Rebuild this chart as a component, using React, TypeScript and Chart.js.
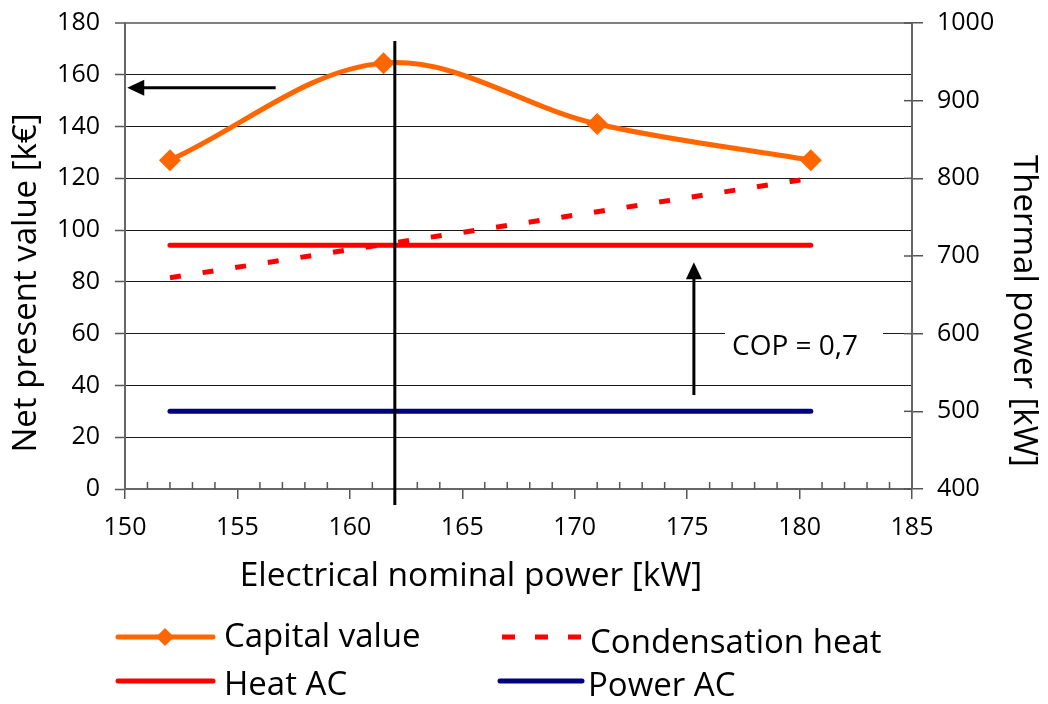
import React, { useEffect, useRef } from "react";
import { Chart, registerables } from "chart.js";

Chart.register(...registerables);

// ---- data ----
const electricalPower = [152, 161.5, 171, 180.5]; // kW (x)
const capitalValue = [127, 164.5, 141, 127]; // k€ (left axis)
const condensationHeat = [672, 715, 757, 800]; // kW (right axis)
const heatAC = [714, 714, 714, 714]; // kW (right axis)
const powerAC = [500, 500, 500, 500]; // kW (right axis)

const xRange = [150, 185];
const leftRange = [0, 180];
const rightRange = [400, 1000];

const optimumPower = 162; // vertical marker
const leftArrow = { y: 155, fromX: 156.7, toX: 150.1 };
const copArrow = { x: 175.3, fromY: 521, toY: 692 };
const copLabel = "COP = 0,7";

const xTitle = "Electrical nominal power [kW]";
const leftTitle = "Net present value [k€]";
const rightTitle = "Thermal power [kW]";

const FONT = "'Open Sans', sans-serif";
const ORANGE = "#FF6600";
const RED = "#FF0000";
const NAVY = "#000080";

function arrowHead(ctx: CanvasRenderingContext2D, tx: number, ty: number, dx: number, dy: number) {
  const len = 17;
  const half = 8;
  const bx = tx - dx * len;
  const by = ty - dy * len;
  ctx.beginPath();
  ctx.moveTo(tx, ty);
  ctx.lineTo(bx - dy * half, by + dx * half);
  ctx.lineTo(bx + dy * half, by - dx * half);
  ctx.closePath();
  ctx.fill();
}

export default function App() {
  const ref = useRef<HTMLCanvasElement>(null);

  useEffect(() => {
    const canvas = ref.current!;

    const overlay = {
      id: "overlay",
      afterDraw(chart: any) {
        const { ctx, chartArea: ca, scales } = chart;
        const sx = scales.x;
        const sy = scales.y;
        const sy1 = scales.y1;
        ctx.save();

        // minor ticks on the x axis (inside)
        ctx.strokeStyle = "#555";
        ctx.lineWidth = 1.5;
        for (let v = xRange[0]; v <= xRange[1]; v++) {
          if (v % 5 === 0) continue;
          const px = sx.getPixelForValue(v);
          ctx.beginPath();
          ctx.moveTo(px, ca.bottom);
          ctx.lineTo(px, ca.bottom - 7);
          ctx.stroke();
        }
        // inward part of right axis ticks
        for (let v = rightRange[0]; v <= rightRange[1]; v += 100) {
          const py = sy1.getPixelForValue(v);
          ctx.beginPath();
          ctx.moveTo(ca.right, py);
          ctx.lineTo(ca.right - 8, py);
          ctx.stroke();
        }

        // vertical optimum line
        const vx = sx.getPixelForValue(optimumPower);
        ctx.strokeStyle = "#000";
        ctx.lineWidth = 3;
        ctx.beginPath();
        ctx.moveTo(vx, 41);
        ctx.lineTo(vx, ca.bottom + 16);
        ctx.stroke();

        // left arrow
        ctx.fillStyle = "#000";
        ctx.lineWidth = 3;
        const ay = sy.getPixelForValue(leftArrow.y);
        const ax0 = sx.getPixelForValue(leftArrow.fromX);
        const ax1 = sx.getPixelForValue(leftArrow.toX);
        ctx.beginPath();
        ctx.moveTo(ax0, ay);
        ctx.lineTo(ax1 + 10, ay);
        ctx.stroke();
        arrowHead(ctx, ax1, ay, -1, 0);

        // COP arrow
        const cx = sx.getPixelForValue(copArrow.x);
        const cy0 = sy1.getPixelForValue(copArrow.fromY);
        const cy1 = sy1.getPixelForValue(copArrow.toY);
        ctx.beginPath();
        ctx.moveTo(cx, cy0);
        ctx.lineTo(cx, cy1 + 10);
        ctx.stroke();
        arrowHead(ctx, cx, cy1, 0, -1);

        // COP label with white box
        ctx.font = `28px ${FONT}`;
        ctx.textBaseline = "alphabetic";
        ctx.textAlign = "left";
        ctx.fillStyle = "#fff";
        ctx.fillRect(725, 318, 158, 48);
        ctx.fillStyle = "#000";
        ctx.fillText(copLabel, 732, 355);

        // axis titles
        ctx.font = `33.5px ${FONT}`;
        ctx.textAlign = "center";
        ctx.fillText(xTitle, 471, 586);
        ctx.font = `33px ${FONT}`;
        ctx.save();
        ctx.translate(36, 283);
        ctx.rotate(-Math.PI / 2);
        ctx.fillText(leftTitle, 0, 0);
        ctx.restore();
        ctx.save();
        ctx.translate(1014, 311);
        ctx.rotate(Math.PI / 2);
        ctx.fillText(rightTitle, 0, 0);
        ctx.restore();

        // legend
        const ds = chart.data.datasets;
        ctx.textAlign = "left";
        ctx.font = `33px ${FONT}`;
        ctx.lineCap = "round";
        // Capital value
        ctx.strokeStyle = ORANGE;
        ctx.lineWidth = 5;
        ctx.beginPath();
        ctx.moveTo(118, 637);
        ctx.lineTo(213, 637);
        ctx.stroke();
        ctx.fillStyle = ORANGE;
        ctx.beginPath();
        ctx.moveTo(165, 628);
        ctx.lineTo(174, 637);
        ctx.lineTo(165, 646);
        ctx.lineTo(156, 637);
        ctx.closePath();
        ctx.fill();
        ctx.fillStyle = "#000";
        ctx.fillText(ds[0].label, 224, 647);
        // Heat AC
        ctx.strokeStyle = RED;
        ctx.beginPath();
        ctx.moveTo(118, 681);
        ctx.lineTo(213, 681);
        ctx.stroke();
        ctx.fillText(ds[2].label, 224, 695);
        // Condensation heat (dashed)
        ctx.lineCap = "butt";
        ctx.strokeStyle = RED;
        ctx.setLineDash([13, 20]);
        ctx.beginPath();
        ctx.moveTo(502, 637);
        ctx.lineTo(582, 637);
        ctx.stroke();
        ctx.setLineDash([]);
        ctx.fillText(ds[1].label, 590, 653);
        // Power AC
        ctx.lineCap = "round";
        ctx.strokeStyle = NAVY;
        ctx.beginPath();
        ctx.moveTo(500, 681);
        ctx.lineTo(582, 681);
        ctx.stroke();
        ctx.fillText(ds[3].label, 588, 696);

        ctx.restore();
      },
    };

    const chart = new Chart(canvas, {
      type: "line",
      data: {
        datasets: [
          {
            label: "Capital value",
            data: electricalPower.map((x, i) => ({ x, y: capitalValue[i] })),
            yAxisID: "y",
            borderColor: ORANGE,
            backgroundColor: ORANGE,
            borderWidth: 5,
            tension: 0.35,
            pointStyle: "rectRot",
            pointRadius: 11,
            pointBorderWidth: 0,
            borderCapStyle: "round",
          },
          {
            label: "Condensation heat",
            data: electricalPower.map((x, i) => ({ x, y: condensationHeat[i] })),
            yAxisID: "y1",
            borderColor: RED,
            borderWidth: 5,
            borderDash: [11, 22],
            pointRadius: 0,
          },
          {
            label: "Heat AC",
            data: electricalPower.map((x, i) => ({ x, y: heatAC[i] })),
            yAxisID: "y1",
            borderColor: RED,
            borderWidth: 5,
            borderCapStyle: "round",
            pointRadius: 0,
          },
          {
            label: "Power AC",
            data: electricalPower.map((x, i) => ({ x, y: powerAC[i] })),
            yAxisID: "y1",
            borderColor: NAVY,
            borderWidth: 5,
            borderCapStyle: "round",
            pointRadius: 0,
          },
        ],
      },
      options: {
        animation: false,
        responsive: false,
        maintainAspectRatio: false,
        events: [],
        layout: { padding: { top: 23, left: 0, right: 0, bottom: 0 } },
        plugins: { legend: { display: false }, tooltip: { enabled: false } },
        scales: {
          x: {
            type: "linear",
            min: xRange[0],
            max: xRange[1],
            afterFit: (s: any) => {
              s.height = 215;
              s.paddingLeft = 0;
              s.paddingRight = 0;
            },
            ticks: {
              stepSize: 5,
              color: "#000",
              font: { family: FONT, size: 25 },
              padding: 14,
              maxRotation: 0,
              callback: (v: any) => String(v),
            },
            grid: { drawOnChartArea: false, tickLength: 10, color: "#555", lineWidth: 1.5 },
            border: { display: true, color: "#666", width: 2 },
          },
          y: {
            type: "linear",
            position: "left",
            min: leftRange[0],
            max: leftRange[1],
            afterFit: (s: any) => {
              s.width = 125;
              s.paddingTop = 0;
              s.paddingBottom = 0;
            },
            ticks: { stepSize: 20, color: "#000", font: { family: FONT, size: 25 }, padding: 15, callback: (v: any) => String(v) },
            grid: {
              tickLength: 10,
              color: (c: any) => (c.tick && c.tick.value === leftRange[1] ? "#808080" : "#1a1a1a"),
              lineWidth: (c: any) => (c.tick && c.tick.value === leftRange[1] ? 2 : 1),
              tickColor: "#555",
              tickWidth: 1.5,
            },
            border: { display: true, color: "#666", width: 2 },
          },
          y1: {
            type: "linear",
            position: "right",
            min: rightRange[0],
            max: rightRange[1],
            afterFit: (s: any) => {
              s.width = 136;
              s.paddingTop = 0;
              s.paddingBottom = 0;
            },
            ticks: { stepSize: 100, color: "#000", font: { family: FONT, size: 25 }, padding: 14, callback: (v: any) => String(v) },
            grid: { drawOnChartArea: false, tickLength: 11, color: "#555", lineWidth: 1.5 },
            border: { display: true, color: "#666", width: 2 },
          },
        },
      },
      plugins: [overlay],
    });

    return () => chart.destroy();
  }, []);

  return (
    <div style={{ position: "absolute", left: 0, top: 0, width: 1048, height: 704, background: "#fff" }}>
      <canvas ref={ref} width={1048} height={704} style={{ width: 1048, height: 704 }} />
    </div>
  );
}
